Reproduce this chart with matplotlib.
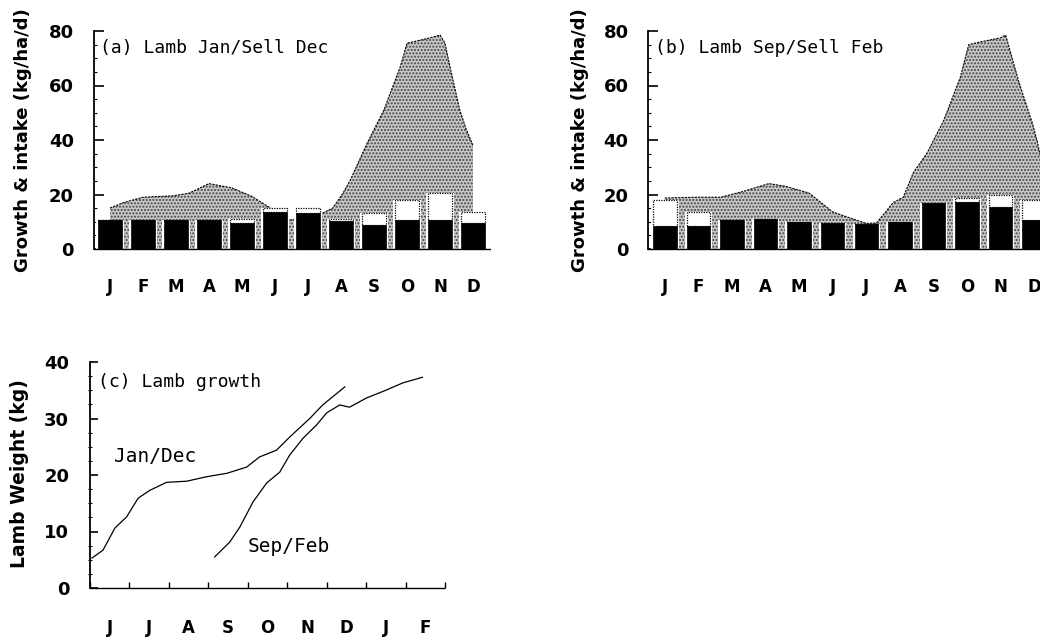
import numpy as np
import matplotlib
matplotlib.use("Agg")
import matplotlib.pyplot as plt
from matplotlib.ticker import MultipleLocator, FixedLocator

# month labels
months = ['J', 'F', 'M', 'A', 'M', 'J', 'J', 'A', 'S', 'O', 'N', 'D']
months_c = ['J', 'J', 'A', 'S', 'O', 'N', 'D', 'J', 'F']

# (a) lamb Jan / sell Dec : black = growth eaten, box top = intake
black_a = [10.6, 10.6, 10.6, 10.6, 9.5, 13.6, 13.2, 10.3, 8.8, 10.6, 10.6, 9.5]
total_a = [10.6, 10.6, 10.6, 10.6, 11.0, 15.0, 15.0, 11.0, 13.2, 18.0, 20.5, 13.6]
# pasture growth (shaded area), x in month index
pasture_x_a = [0, 0.4, 1.0, 1.9, 2.4, 3.0, 3.7, 4.3, 4.6, 5.0, 5.45, 6.0, 6.45, 6.75,
               7.06, 7.27, 7.8, 8.3, 8.8, 9.0, 9.7, 10.0, 10.15, 10.3, 10.6, 10.8, 11.0, 11.0]
pasture_y_a = [15, 17, 19, 19.5, 20.5, 24, 22.4, 19.3, 17, 14, 10.6, 12, 13.2, 15,
               20.5, 25, 39, 51, 67, 75.5, 77.5, 78.5, 75.6, 67, 51, 43.7, 38, 0]

# (b) lamb Sep / sell Feb
black_b = [8.4, 8.4, 10.6, 11.0, 10.0, 9.5, 9.2, 10.0, 16.8, 17.3, 15.4, 10.6]
total_b = [18.0, 13.6, 10.6, 11.0, 10.0, 9.5, 9.2, 10.0, 16.8, 18.7, 19.8, 18.0]
pasture_x_b = [0, 1.0, 1.67, 2.3, 3.1, 3.6, 4.3, 5.0, 5.7, 6.0, 6.3, 6.8, 7.1, 7.4,
               7.8, 8.3, 8.8, 9.05, 9.4, 10.0, 10.15, 10.55, 10.95, 11.1, 11.2, 11.2, 11.5]
pasture_y_b = [18.7, 19, 19, 21, 24, 23, 20.5, 13.6, 10.6, 9.4, 9.5, 17, 19, 28,
               35, 47, 63, 75, 76, 77.5, 78.5, 61, 46, 39, 33, 20, 20]

# (c) lamb weight, x in months from start of June
jan_x = [0.05, 0.33, 0.63, 0.93, 1.22, 1.52, 1.94, 2.45, 2.96, 3.47, 3.97, 4.3, 4.73,
         5.06, 5.57, 5.9, 6.46]
jan_y = [5.3, 6.7, 10.6, 12.6, 15.9, 17.3, 18.7, 18.9, 19.7, 20.3, 21.4, 23.2, 24.4,
         26.7, 30.0, 32.4, 35.6]
sep_x = [3.16, 3.54, 3.8, 4.13, 4.48, 4.81, 5.06, 5.4, 5.75, 6.0, 6.33, 6.58, 7.0,
         7.5, 7.93, 8.43]
sep_y = [5.5, 8.1, 10.8, 15.2, 18.6, 20.5, 23.5, 26.5, 28.9, 31.0, 32.4, 32.0, 33.6,
         35.0, 36.3, 37.3]

W, H = 1040, 638
fig = plt.figure(figsize=(W / 100, H / 100), dpi=100)
plt.rcParams['hatch.color'] = '#444444'
plt.rcParams['hatch.linewidth'] = 1.0

mono = 'DejaVu Sans Mono'


def style_axes(ax):
    for s in ['top', 'right']:
        ax.spines[s].set_visible(False)
    ax.spines['left'].set_linewidth(1.3)
    ax.spines['bottom'].set_linewidth(1.0)
    ax.spines['bottom'].set_linestyle((0, (1, 1)))


def bar_panel(ax, black, total, px, py, title):
    x = np.arange(len(months))
    ax.fill_between(px, 0, py, facecolor='#c8c8c8', hatch='.....', edgecolor='#444444',
                    linewidth=0, zorder=1)
    ax.plot(px[:-1] if py[-1] == 0 else px, py[:-1] if py[-1] == 0 else py,
            color='black', lw=0.8, ls=(0, (2, 1)), zorder=1.5)
    tops = np.array(total) - np.array(black)
    ax.bar(x, total, width=0.82, color='white', edgecolor='white', linewidth=0, zorder=2)
    ax.bar(x, tops, bottom=black, width=0.7, color='white', edgecolor='black',
           linewidth=0.9, linestyle=(0, (1, 1)), zorder=3)
    ax.bar(x, black, width=0.7, color='black', edgecolor='black', linewidth=0.5, zorder=4)
    ax.set_xlim(-0.5, 11.5)
    ax.set_ylim(0, 80)
    style_axes(ax)
    ax.set_yticks([0, 20, 40, 60, 80])
    ax.yaxis.set_minor_locator(MultipleLocator(5))
    ax.tick_params(axis='y', which='major', direction='in', length=7, width=1.2, pad=14,
                   labelsize=13)
    ax.tick_params(axis='y', which='minor', direction='in', length=2, width=0.8)
    ax.set_xticks(x)
    ax.set_xticklabels(months)
    ax.tick_params(axis='x', length=0, pad=21, labelsize=12)
    for lab in ax.get_xticklabels() + ax.get_yticklabels():
        lab.set_fontweight('bold')
    ax.text(-0.3, 73.8, title, family=mono, fontsize=13, va='center', ha='left')


ax_a = fig.add_axes([93.5 / W, (H - 249) / H, 396 / W, 218 / H])
bar_panel(ax_a, black_a, total_a, pasture_x_a, pasture_y_a, '(a) Lamb Jan/Sell Dec')

ax_b = fig.add_axes([648 / W, (H - 249) / H, 403 / W, 218 / H])
bar_panel(ax_b, black_b, total_b, pasture_x_b, pasture_y_b, '(b) Lamb Sep/Sell Feb')

fig.text(23 / W, 1 - 140 / H, 'Growth & intake (kg/ha/d)', rotation=90, ha='center',
         va='center', fontsize=13, fontweight='bold')
fig.text(580 / W, 1 - 140 / H, 'Growth & intake (kg/ha/d)', rotation=90, ha='center',
         va='center', fontsize=13, fontweight='bold')

# (c) lamb growth
ax_c = fig.add_axes([90 / W, (H - 588) / H, 355 / W, 226 / H])
ax_c.plot(jan_x, jan_y, color='black', lw=0.9)
ax_c.plot(sep_x, sep_y, color='black', lw=0.9)
ax_c.set_xlim(0, 9)
ax_c.set_ylim(0, 40)
style_axes(ax_c)
ax_c.set_yticks([0, 10, 20, 30, 40])
ax_c.yaxis.set_minor_locator(MultipleLocator(2.5))
ax_c.tick_params(axis='y', which='major', direction='in', length=6, width=1.2, pad=15,
                 labelsize=13)
ax_c.tick_params(axis='y', which='minor', direction='inout', length=3, width=0.8)
ax_c.xaxis.set_major_locator(FixedLocator(np.arange(10)))
ax_c.xaxis.set_minor_locator(FixedLocator(np.arange(9) + 0.5))
ax_c.set_xticklabels([''] * 10)
ax_c.set_xticklabels(months_c, minor=True)
ax_c.tick_params(axis='x', which='major', direction='in', length=4, width=1.0)
ax_c.tick_params(axis='x', which='minor', length=0, pad=22, labelsize=12)
for lab in ax_c.get_xticklabels(minor=True) + ax_c.get_yticklabels():
    lab.set_fontweight('bold')
ax_c.text(0.2, 36.5, '(c) Lamb growth', family=mono, fontsize=13, va='center', ha='left')
ax_c.text(0.6, 23.2, 'Jan/Dec', family=mono, fontsize=14, va='center', ha='left')
ax_c.text(4.0, 7.3, 'Sep/Feb', family=mono, fontsize=14, va='center', ha='left')
fig.text(20 / W, 1 - 474 / H, 'Lamb Weight (kg)', rotation=90, ha='center',
         va='center', fontsize=13.5, fontweight='bold')

fig.savefig('out.png', dpi=100)
